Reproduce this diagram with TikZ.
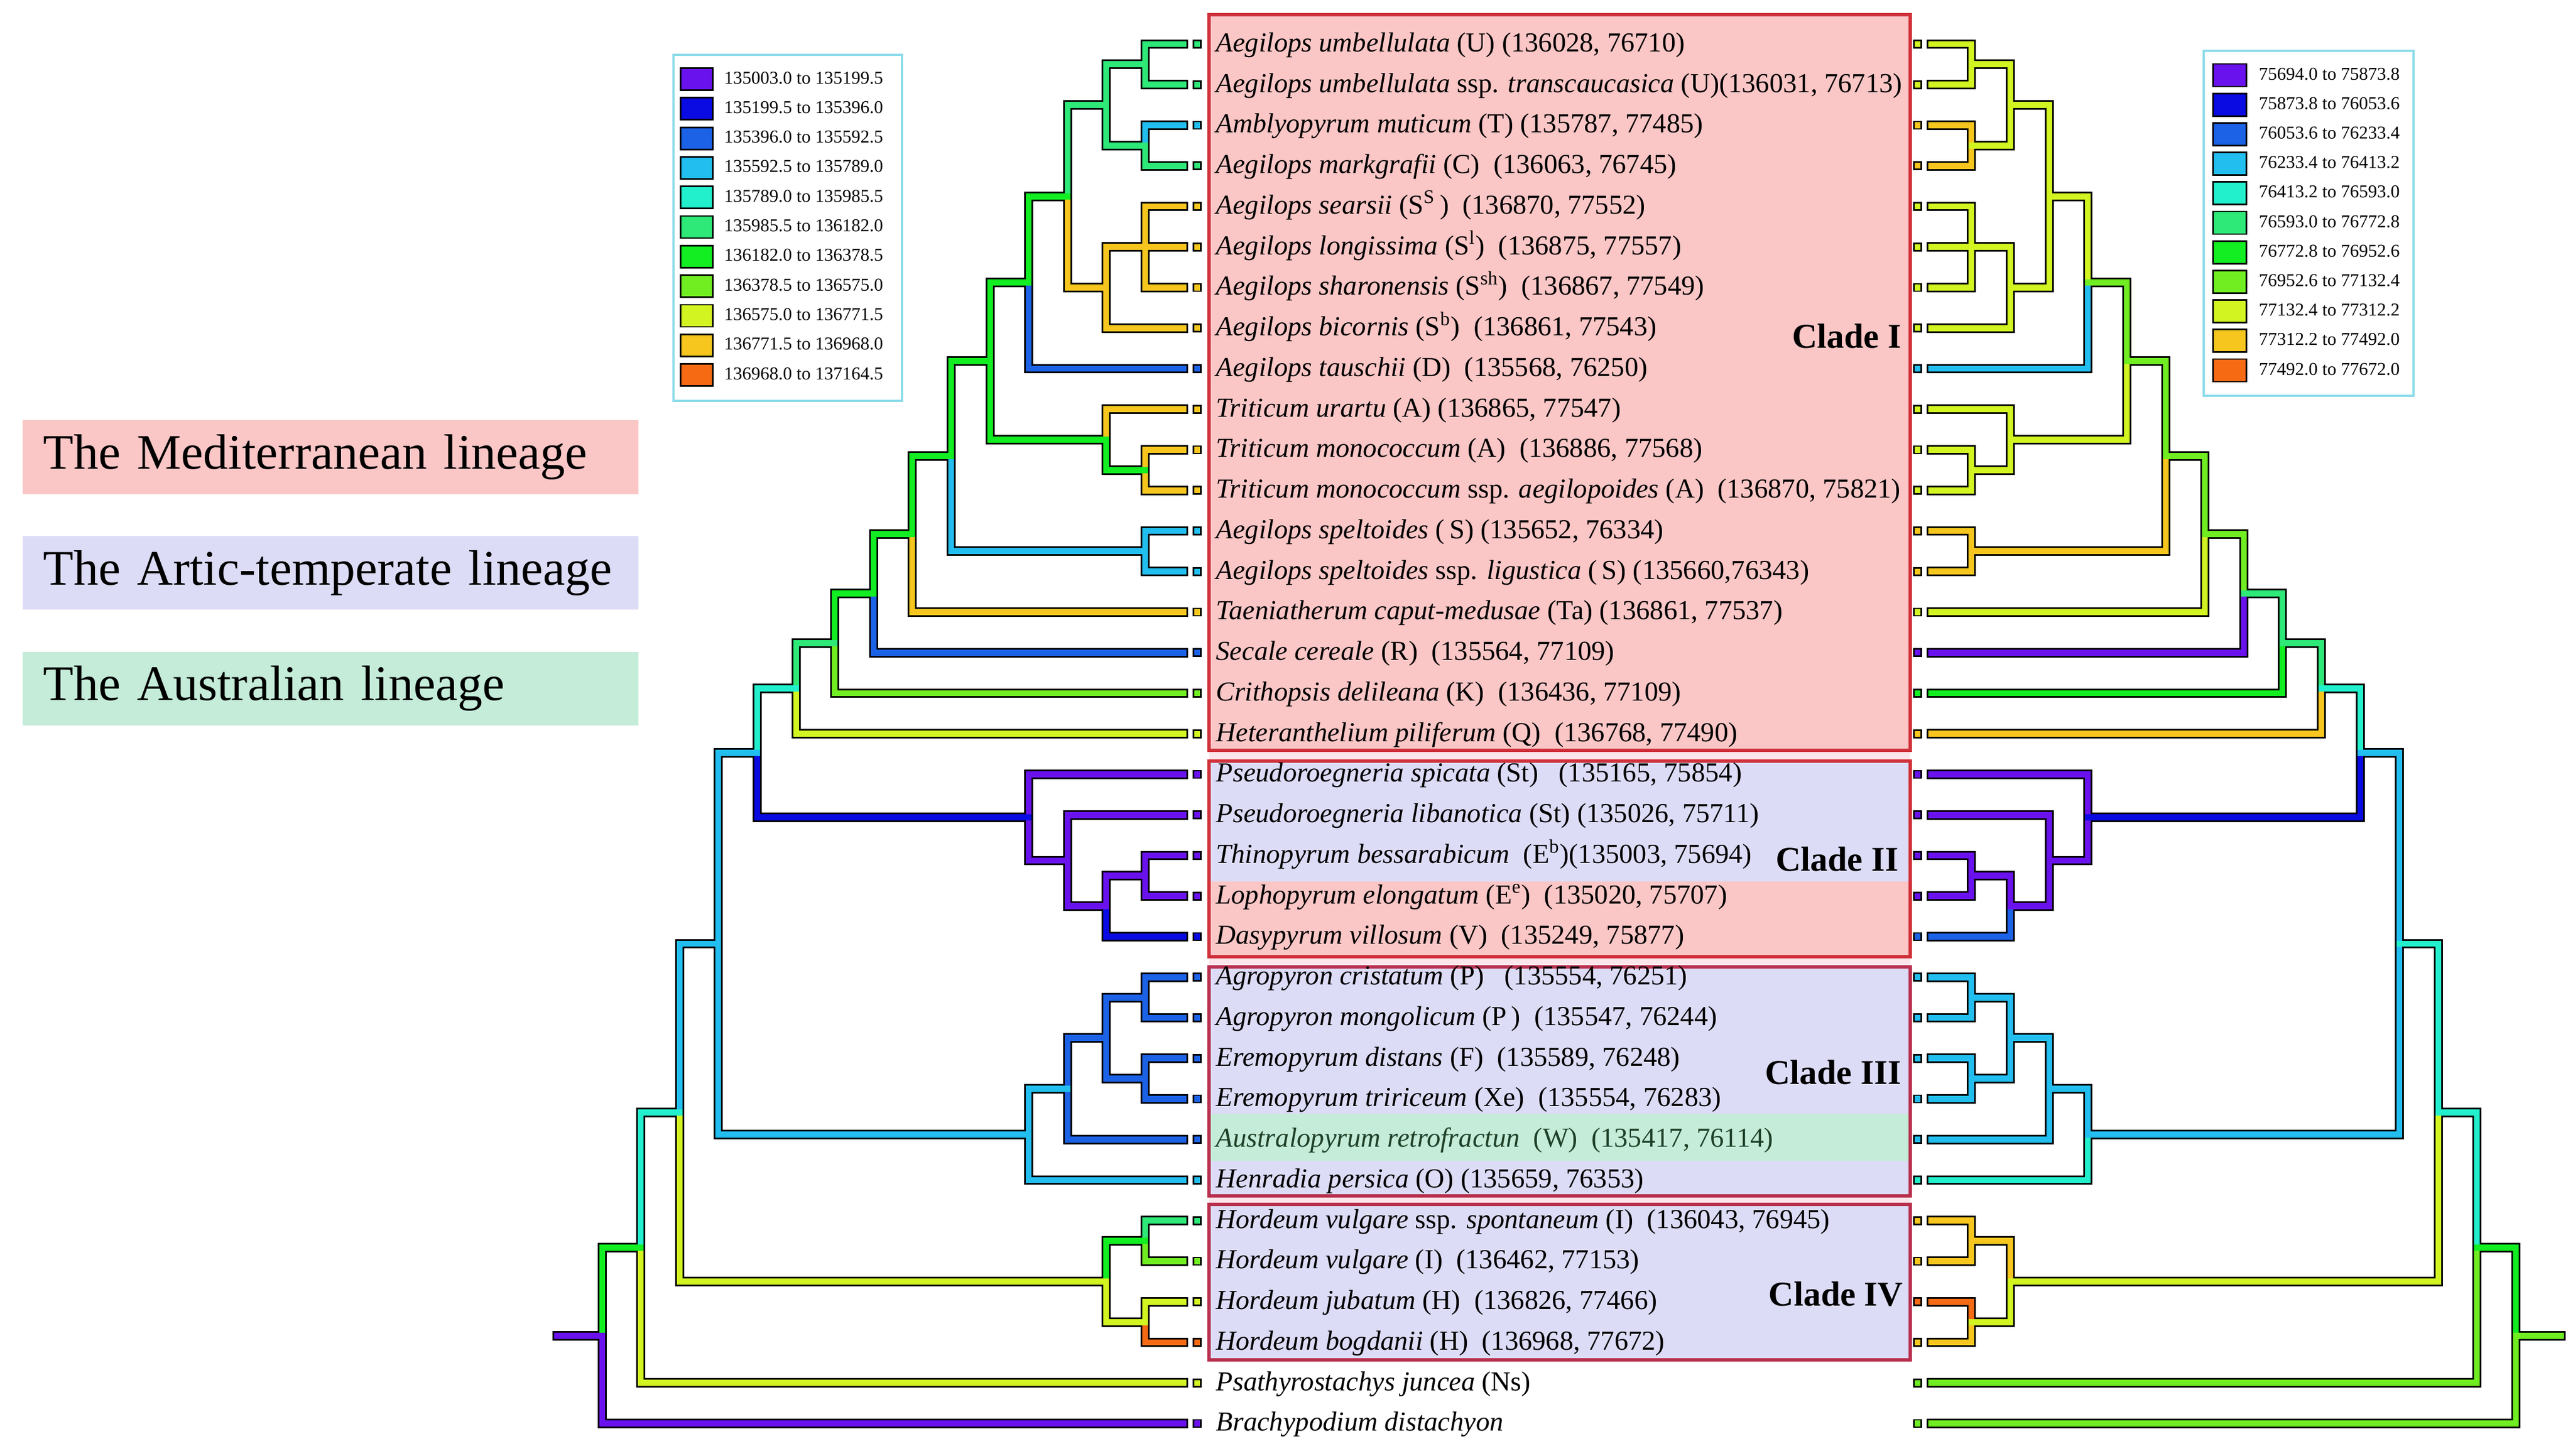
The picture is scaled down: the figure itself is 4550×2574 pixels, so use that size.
\documentclass[tikz,border=0pt]{standalone}
\usepackage{fontspec}
\setmainfont{Liberation Serif}
\usetikzlibrary{positioning}
% colour bins (both legends share them)
\definecolor{bin1}{HTML}{6A12EE}
\definecolor{bin2}{HTML}{0A0AE2}
\definecolor{bin3}{HTML}{1C62E6}
\definecolor{bin4}{HTML}{22BEF0}
\definecolor{bin5}{HTML}{22F0CC}
\definecolor{bin6}{HTML}{2EE878}
\definecolor{bin7}{HTML}{12EE22}
\definecolor{bin8}{HTML}{70EE22}
\definecolor{bin9}{HTML}{D2F522}
\definecolor{bin10}{HTML}{F7C61E}
\definecolor{bin11}{HTML}{F76A14}
\definecolor{medpink}{HTML}{FAC6C6}
\definecolor{arclav}{HTML}{DDDCF6}
\definecolor{ausgreen}{HTML}{C4ECD8}
\definecolor{cladered}{HTML}{D0303A}
\definecolor{claderose}{HTML}{B8304E}
\definecolor{legcyan}{HTML}{8EDCEA}
\definecolor{gappink}{HTML}{FCE6EC}
\definecolor{ausink}{HTML}{1E3F28}
\tikzset{
  edgeout/.style={line width=4.8pt,draw=black,line cap=rect},
  edgein/.style={line width=3.1pt,line cap=rect},
  tipbox/.style={draw=black,line width=0.8pt,minimum size=0.13cm,inner sep=0pt},
  leaflab/.style={anchor=mid west,inner sep=0pt,yshift=-1.5pt,
    font=\fontsize{13.8}{16}\selectfont},
  cladelab/.style={anchor=east,inner sep=0pt,font=\fontsize{17.5}{20}\selectfont\bfseries},
  cladebox/.style={line width=1.7pt},
  lineage/.style={minimum height=1.3cm,text width=10.15cm,inner xsep=0.37cm,
    align=left,font=\fontsize{25}{28}\selectfont},
  legframe/.style={draw=legcyan,line width=1.1pt,fill=white},
  legsq/.style={draw=black,line width=0.8pt,minimum width=0.57cm,
    minimum height=0.39cm,inner sep=0pt},
  legtxt/.style={anchor=mid west,inner sep=0pt,font=\fontsize{9.1}{11}\selectfont}
}
% branches: parent / child / colour
\def\leftedges{la12/l1/bin6, la12/l2/bin6, la34/l3/bin4, la34/l4/bin6,
 la14/la12/bin6, la14/la34/bin6,
 la57/l5/bin10, la57/l6/bin10, la57/l7/bin10,
 la58/la57/bin10, la58/l8/bin10,
 la18/la14/bin6, la18/la58/bin10,
 la19/la18/bin7, la19/l9/bin3,
 la1112/l11/bin10, la1112/l12/bin10,
 la1012/l10/bin10, la1012/la1112/bin7,
 la112/la19/bin7, la112/la1012/bin7,
 la1314/l13/bin4, la1314/l14/bin4,
 la114/la112/bin7, la114/la1314/bin4,
 la115/la114/bin7, la115/l15/bin10,
 la116/la115/bin7, la116/l16/bin3,
 la117/la116/bin7, la117/l17/bin8,
 la118/la117/bin6, la118/l18/bin9,
 la2122/l21/bin1, la2122/l22/bin1,
 la2123/la2122/bin1, la2123/l23/bin2,
 la2023/l20/bin1, la2023/la2123/bin1,
 la1923/l19/bin1, la1923/la2023/bin1,
 la123/la118/bin5, la123/la1923/bin2,
 la2425/l24/bin3, la2425/l25/bin3, la2627/l26/bin3, la2627/l27/bin3,
 la2427/la2425/bin3, la2427/la2627/bin3,
 la2428/la2427/bin3, la2428/l28/bin3,
 la2429/la2428/bin4, la2429/l29/bin4,
 la129/la123/bin4, la129/la2429/bin4,
 la3031/l30/bin6, la3031/l31/bin8, la3233/l32/bin9, la3233/l33/bin11,
 la3033/la3031/bin7, la3033/la3233/bin9,
 la133/la129/bin4, la133/la3033/bin9,
 la134/la133/bin5, la134/l34/bin9,
 la135/la134/bin7, la135/l35/bin1,
 laroot/la135/bin1}
\def\rightedges{ra12/r1/bin9, ra12/r2/bin9, ra34/r3/bin10, ra34/r4/bin10,
 ra14/ra12/bin9, ra14/ra34/bin9,
 ra57/r5/bin9, ra57/r6/bin9, ra57/r7/bin9,
 ra58/ra57/bin9, ra58/r8/bin9,
 ra18/ra14/bin9, ra18/ra58/bin9,
 ra19/ra18/bin9, ra19/r9/bin4,
 ra1112/r11/bin9, ra1112/r12/bin9,
 ra1012/r10/bin9, ra1012/ra1112/bin9,
 ra112/ra19/bin8, ra112/ra1012/bin9,
 ra1314/r13/bin10, ra1314/r14/bin10,
 ra114/ra112/bin8, ra114/ra1314/bin10,
 ra115/ra114/bin8, ra115/r15/bin9,
 ra116/ra115/bin8, ra116/r16/bin1,
 ra117/ra116/bin6, ra117/r17/bin7,
 ra118/ra117/bin6, ra118/r18/bin10,
 ra2122/r21/bin1, ra2122/r22/bin1,
 ra2123/ra2122/bin1, ra2123/r23/bin3,
 ra2023/r20/bin1, ra2023/ra2123/bin1,
 ra1923/r19/bin1, ra1923/ra2023/bin1,
 ra123/ra118/bin5, ra123/ra1923/bin2,
 ra2425/r24/bin4, ra2425/r25/bin4, ra2627/r26/bin4, ra2627/r27/bin4,
 ra2427/ra2425/bin4, ra2427/ra2627/bin4,
 ra2428/ra2427/bin4, ra2428/r28/bin4,
 ra2429/ra2428/bin4, ra2429/r29/bin5,
 ra129/ra123/bin4, ra129/ra2429/bin4,
 ra3031/r30/bin10, ra3031/r31/bin10, ra3233/r32/bin11, ra3233/r33/bin10,
 ra3033/ra3031/bin10, ra3033/ra3233/bin9,
 ra133/ra129/bin5, ra133/ra3033/bin9,
 ra134/ra133/bin5, ra134/r34/bin8,
 ra135/ra134/bin7, ra135/r35/bin8,
 raroot/ra135/bin8}

\begin{document}
\begin{tikzpicture}[x=0.01cm,y=-0.01cm]
  \useasboundingbox (0,0) rectangle (4550,2574);
  \fill[white] (0,0) rectangle (4550,2574);

  % lineage key
  \node[lineage,fill=medpink] (medit) at (584.5,808.5) {The Mediterranean lineage};
  \node[lineage,fill=arclav,below=0.73cm of medit] (artic) {The Artic-temperate lineage};
  \node[lineage,fill=ausgreen,below=0.73cm of artic] (austr) {The Australian lineage};

  % clade boxes
  \fill[gappink] (2138,1327) rectangle (3378,2130);
  \draw[cladebox,draw=cladered,fill=medpink] (2138,26) rectangle (3378,1327);
  \fill[arclav] (2138,1346) rectangle (3378,1559);
  \fill[medpink] (2138,1559) rectangle (3378,1692);
  \draw[cladebox,draw=cladered] (2138,1346) rectangle (3378,1692);
  \fill[arclav] (2138,1710) rectangle (3378,2115);
  \fill[ausgreen] (2141,1970) rectangle (3375,2053);
  \draw[cladebox,draw=claderose] (2138,1710) rectangle (3378,2115);
  \draw[cladebox,draw=claderose,fill=arclav] (2138,2130) rectangle (3378,2405);

  % legends
  \draw[legframe] (1191,97) rectangle (1595,709);
  \foreach \k/\t in {1/135003.0 to 135199.5, 2/135199.5 to 135396.0,
      3/135396.0 to 135592.5, 4/135592.5 to 135789.0, 5/135789.0 to 135985.5,
      6/135985.5 to 136182.0, 7/136182.0 to 136378.5, 8/136378.5 to 136575.0,
      9/136575.0 to 136771.5, 10/136771.5 to 136968.0, 11/136968.0 to 137164.5}{
    \node[legsq,fill=bin\k] (lq\k) at (1232,{140+(\k-1)*52.3}) {};
    \node[right=0.18cm of lq\k,legtxt] (lv\k) {\t};
  }
  \draw[legframe] (3897,90) rectangle (4268,700);
  \foreach \k/\t in {1/75694.0 to 75873.8, 2/75873.8 to 76053.6,
      3/76053.6 to 76233.4, 4/76233.4 to 76413.2, 5/76413.2 to 76593.0,
      6/76593.0 to 76772.8, 7/76772.8 to 76952.6, 8/76952.6 to 77132.4,
      9/77132.4 to 77312.2, 10/77312.2 to 77492.0, 11/77492.0 to 77672.0}{
    \node[legsq,fill=bin\k,minimum width=0.59cm,minimum height=0.4cm] (rq\k)
      at (3943,{133+(\k-1)*52.2}) {};
    \node[right=0.2cm of rq\k,legtxt] (rv\k) {\t};
  }

  % leaf ends and tree nodes (name / left x / right x / y)
  \foreach \i in {1,...,35}{
    \coordinate (l\i) at (2093,{78+(\i-1)*71.75});
    \coordinate (r\i) at (3415.5,{78+(\i-1)*71.75});
  }
  \foreach \n/\xl/\xr/\y in {12/2025/3486/113.9, 34/2025/3486/257.4,
      14/1956/3555/185.6, 57/2025/3486/436.75, 58/1956/3555/508.5,
      18/1888/3624/347.1, 19/1819/3692/499.5, 1112/2025/3486/831.4,
      1012/1956/3555/777.6, 112/1751/3761/638.5, 1314/2025/3486/974.9,
      114/1682/3830/806.7, 115/1613/3899/944.6, 116/1545/3968/1049.4,
      117/1476/4036/1137.7, 118/1408/4105/1217.8, 2122/2025/3486/1548.9,
      2123/1956/3555/1602.7, 2023/1888/3624/1522.0, 1923/1819/3692/1445.7,
      123/1339/4174/1331.7, 2425/2025/3486/1764.1, 2627/2025/3486/1907.6,
      2427/1956/3555/1835.9, 2428/1888/3624/1925.6, 2429/1819/3692/2006.3,
      129/1270/4243/1669.0, 3031/2025/3486/2194.6, 3233/2025/3486/2338.1,
      3033/1956/3555/2266.4, 133/1202/4312/1967.7, 134/1133/4380/2206.7,
      135/1065/4449/2362.1, root/985/4529/2362.1}{
    \coordinate (la\n) at (\xl,\y);
    \coordinate (ra\n) at (\xr,\y);
  }

  % branches: black rims first, colours on top
  \foreach \p/\c/\k in \leftedges {\draw[edgeout] (\p) |- (\c);}
  \foreach \p/\c/\k in \rightedges {\draw[edgeout] (\p) |- (\c);}
  \foreach \p/\c/\k in \leftedges {\draw[edgein,draw=\k] (\p) |- (\c);}
  \foreach \p/\c/\k in \rightedges {\draw[edgein,draw=\k] (\p) |- (\c);}

  % tip boxes
  \foreach \i/\kl/\kr in {1/bin6/bin9, 2/bin6/bin9, 3/bin4/bin10, 4/bin6/bin10,
      5/bin10/bin9, 6/bin10/bin9, 7/bin10/bin9, 8/bin10/bin9, 9/bin3/bin4,
      10/bin10/bin9, 11/bin10/bin9, 12/bin10/bin9, 13/bin4/bin10, 14/bin4/bin10,
      15/bin10/bin9, 16/bin3/bin1, 17/bin8/bin7, 18/bin9/bin10, 19/bin1/bin1,
      20/bin1/bin1, 21/bin1/bin1, 22/bin1/bin1, 23/bin2/bin3, 24/bin3/bin4,
      25/bin3/bin4, 26/bin3/bin4, 27/bin3/bin4, 28/bin3/bin4, 29/bin4/bin5,
      30/bin6/bin10, 31/bin8/bin10, 32/bin9/bin11, 33/bin11/bin10, 34/bin9/bin8,
      35/bin1/bin8}{
    \node[tipbox,fill=\kl] (lt\i) at (2117,{78+(\i-1)*71.75}) {};
    \node[tipbox,fill=\kr] (rt\i) at (3391,{78+(\i-1)*71.75}) {};
  }

  % taxa
  \node[right=0.25cm of lt1,leaflab] (tx1) {\textit{Aegilops umbellulata} (U) (136028, 76710)};
  \node[right=0.25cm of lt2,leaflab] (tx2) {\textit{Aegilops umbellulata} ssp. \textit{transcaucasica} (U)(136031, 76713)};
  \node[right=0.25cm of lt3,leaflab] (tx3) {\textit{Amblyopyrum muticum} (T) (135787, 77485)};
  \node[right=0.25cm of lt4,leaflab] (tx4) {\textit{Aegilops markgrafii} (C) \ (136063, 76745)};
  \node[right=0.25cm of lt5,leaflab] (tx5) {\textit{Aegilops searsii} (S\textsuperscript{S}\,) \ (136870, 77552)};
  \node[right=0.25cm of lt6,leaflab] (tx6) {\textit{Aegilops longissima} (S\textsuperscript{l}) \ (136875, 77557)};
  \node[right=0.25cm of lt7,leaflab] (tx7) {\textit{Aegilops sharonensis} (S\textsuperscript{sh}) \ (136867, 77549)};
  \node[right=0.25cm of lt8,leaflab] (tx8) {\textit{Aegilops bicornis} (S\textsuperscript{b}) \ (136861, 77543)};
  \node[right=0.25cm of lt9,leaflab] (tx9) {\textit{Aegilops tauschii} (D) \ (135568, 76250)};
  \node[right=0.25cm of lt10,leaflab] (tx10) {\textit{Triticum urartu} (A) (136865, 77547)};
  \node[right=0.25cm of lt11,leaflab] (tx11) {\textit{Triticum monococcum} (A) \ (136886, 77568)};
  \node[right=0.25cm of lt12,leaflab] (tx12) {\textit{Triticum monococcum} ssp. \textit{aegilopoides} (A) \ (136870, 75821)};
  \node[right=0.25cm of lt13,leaflab] (tx13) {\textit{Aegilops speltoides} (\,S) (135652, 76334)};
  \node[right=0.25cm of lt14,leaflab] (tx14) {\textit{Aegilops speltoides} ssp. \textit{ligustica} (\,S) (135660,76343)};
  \node[right=0.25cm of lt15,leaflab] (tx15) {\textit{Taeniatherum caput-medusae} (Ta) (136861, 77537)};
  \node[right=0.25cm of lt16,leaflab] (tx16) {\textit{Secale cereale} (R) \ (135564, 77109)};
  \node[right=0.25cm of lt17,leaflab] (tx17) {\textit{Crithopsis delileana} (K) \ (136436, 77109)};
  \node[right=0.25cm of lt18,leaflab] (tx18) {\textit{Heteranthelium piliferum} (Q) \ (136768, 77490)};
  \node[right=0.25cm of lt19,leaflab] (tx19) {\textit{Pseudoroegneria spicata} (St) \ \ (135165, 75854)};
  \node[right=0.25cm of lt20,leaflab] (tx20) {\textit{Pseudoroegneria libanotica} (St) (135026, 75711)};
  \node[right=0.25cm of lt21,leaflab] (tx21) {\textit{Thinopyrum bessarabicum} \ (E\textsuperscript{b})(135003, 75694)};
  \node[right=0.25cm of lt22,leaflab] (tx22) {\textit{Lophopyrum elongatum} (E\textsuperscript{e}) \ (135020, 75707)};
  \node[right=0.25cm of lt23,leaflab] (tx23) {\textit{Dasypyrum villosum} (V) \ (135249, 75877)};
  \node[right=0.25cm of lt24,leaflab] (tx24) {\textit{Agropyron cristatum} (P) \ \ (135554, 76251)};
  \node[right=0.25cm of lt25,leaflab] (tx25) {\textit{Agropyron mongolicum} (P\,) \ (135547, 76244)};
  \node[right=0.25cm of lt26,leaflab] (tx26) {\textit{Eremopyrum distans} (F) \ (135589, 76248)};
  \node[right=0.25cm of lt27,leaflab] (tx27) {\textit{Eremopyrum tririceum} (Xe) \ (135554, 76283)};
  \node[right=0.25cm of lt28,leaflab,text=ausink] (tx28) {\textit{Australopyrum retrofractun} \ (W) \ (135417, 76114)};
  \node[right=0.25cm of lt29,leaflab] (tx29) {\textit{Henradia persica} (O) (135659, 76353)};
  \node[right=0.25cm of lt30,leaflab] (tx30) {\textit{Hordeum vulgare} ssp. \textit{spontaneum} (I) \ (136043, 76945)};
  \node[right=0.25cm of lt31,leaflab] (tx31) {\textit{Hordeum vulgare} (I) \ (136462, 77153)};
  \node[right=0.25cm of lt32,leaflab] (tx32) {\textit{Hordeum jubatum} (H) \ (136826, 77466)};
  \node[right=0.25cm of lt33,leaflab] (tx33) {\textit{Hordeum bogdanii} (H) \ (136968, 77672)};
  \node[right=0.25cm of lt34,leaflab] (tx34) {\textit{Psathyrostachys juncea} (Ns)};
  \node[right=0.25cm of lt35,leaflab] (tx35) {\textit{Brachypodium distachyon}};

  % clade names
  \node[cladelab] (cl1) at (3363,594) {Clade I};
  \node[cladelab] (cl2) at (3358,1519) {Clade II};
  \node[cladelab] (cl3) at (3363,1896) {Clade III};
  \node[cladelab] (cl4) at (3366,2289) {Clade IV};
\end{tikzpicture}
\end{document}
